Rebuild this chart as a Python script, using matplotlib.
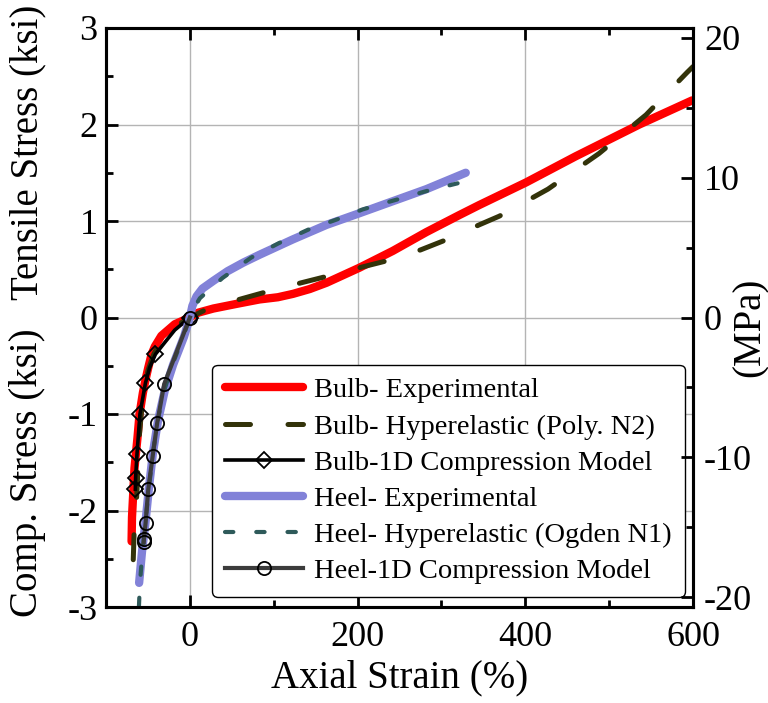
import matplotlib
matplotlib.use("Agg")
import matplotlib.pyplot as plt
from matplotlib.ticker import MultipleLocator, FixedLocator

plt.rcParams['font.family'] = ['Liberation Serif', 'DejaVu Serif']
plt.rcParams['axes.unicode_minus'] = False

# ---------------- data (strain %, stress ksi) ----------------
bulb_exp_x = [-69.5, -69, -66, -62.5, -60, -56, -52.5, -49.6, -45.6, -41.7, -34, -18, 0,
              10, 28, 55, 83, 105, 123, 143, 163, 202, 242, 282, 321, 345, 401, 460, 536, 599]
bulb_exp_y = [-2.32, -2.07, -1.56, -1.25, -1.0, -0.78, -0.63, -0.52, -0.38, -0.30, -0.19, -0.07, 0,
              0.05, 0.093, 0.14, 0.187, 0.21, 0.245, 0.295, 0.36, 0.515, 0.69, 0.885, 1.06, 1.165, 1.40, 1.67, 2.0, 2.25]

bulb_hyp_x = [-67.5, -66, -63.5, -62.5, -61, -58, -54.5, -50, -43, -33, -15, 0,
              20, 60, 93, 133, 165, 204, 236, 275, 307, 345, 369, 427, 488, 544, 593, 600]
bulb_hyp_y = [-2.51, -2.1, -1.87, -1.69, -1.3, -1.0, -0.76, -0.55, -0.38, -0.22, -0.08, 0,
              0.085, 0.19, 0.27, 0.36, 0.43, 0.52, 0.59, 0.70, 0.81, 0.96, 1.05, 1.33, 1.70, 2.10, 2.54, 2.60]

bulb_1d_x = [0, -18, -30, -41, -48, -53, -59.5, -63, -64.7, -65]
bulb_1d_y = [0, -0.13, -0.26, -0.38, -0.52, -0.68, -1.0, -1.41, -1.66, -1.78]
bulb_1d_marks = [0, 3, 5, 6, 7, 8, 9]

heel_exp_x = [-60.5, -57, -53, -49, -44, -38, -30, -20, -7, 0,
              3, 8, 15, 28, 45, 64, 83, 123, 163, 202, 242, 282, 329]
heel_exp_y = [-2.75, -2.42, -2.13, -1.78, -1.4, -1.07, -0.76, -0.49, -0.2, 0,
              0.12, 0.22, 0.30, 0.38, 0.48, 0.57, 0.65, 0.81, 0.96, 1.08, 1.205, 1.33, 1.50]

heel_hyp_x = [-60.7, -59.5, -56.5, -53, -49, -44, -38, -30, -20, -8, 0,
              5, 12, 39, 73, 106, 141, 175, 206, 246, 282, 319, 323]
heel_hyp_y = [-2.99, -2.75, -2.42, -2.13, -1.78, -1.4, -1.05, -0.74, -0.47, -0.2, 0,
              0.10, 0.20, 0.41, 0.62, 0.77, 0.91, 1.015, 1.12, 1.22, 1.31, 1.39, 1.40]

heel_1d_x = [0, -30.6, -38.9, -44.4, -49.6, -52.8, -54.8, -55]
heel_1d_y = [0, -0.69, -1.09, -1.44, -1.78, -2.13, -2.30, -2.33]

labels = ["Bulb- Experimental", "Bulb- Hyperelastic (Poly. N2)",
          "Bulb-1D Compression Model", "Heel- Experimental",
          "Heel- Hyperelastic (Ogden N1)", "Heel-1D Compression Model"]

x_ticks = [0, 200, 400, 600]
y_ticks = [-3, -2, -1, 0, 1, 2, 3]
mpa_ticks = [-20, -10, 0, 10, 20]
KSI_TO_MPA = 6.89476

# ---------------- figure ----------------
fig = plt.figure(figsize=(7.68, 7.03), dpi=100)
ax = fig.add_axes([106/768, 1-607/703, (693-106)/768, (607-28)/703])

ax.plot(bulb_exp_x, bulb_exp_y, color='#ff0000', lw=6, solid_capstyle='round',
        solid_joinstyle='round', label=labels[0], zorder=3)
ax.plot(bulb_hyp_x, bulb_hyp_y, color='#33330a', lw=3.6, dashes=(5, 7.5),
        dash_capstyle='round', label=labels[1], zorder=4)
ax.plot(bulb_1d_x, bulb_1d_y, color='black', lw=2.6, marker='D', markevery=bulb_1d_marks,
        markersize=8.5, markerfacecolor='none', markeredgecolor='black', markeredgewidth=1.3,
        label=labels[2], zorder=5)
ax.plot(heel_exp_x, heel_exp_y, color='#8282d8', lw=6, solid_capstyle='round',
        solid_joinstyle='round', label=labels[3], zorder=6)
ax.plot(heel_hyp_x, heel_hyp_y, color='#2e5a5a', lw=3.0, dashes=(2, 5.5),
        dash_capstyle='round', label=labels[4], zorder=7)
ax.plot(heel_1d_x, heel_1d_y, color='#3c3c3c', lw=3.0, marker='o',
        markersize=9.5, markerfacecolor='none', markeredgecolor='black', markeredgewidth=1.3,
        label=labels[5], zorder=8)

ax.set_xlim(-100, 600)
ax.set_ylim(-3, 3)
ax.xaxis.set_major_locator(FixedLocator(x_ticks))
ax.xaxis.set_minor_locator(MultipleLocator(100))
ax.yaxis.set_major_locator(FixedLocator(y_ticks))
ax.yaxis.set_minor_locator(MultipleLocator(0.5))
ax.grid(True, which='major', color='#b4b4b4', lw=1.0, zorder=0)
ax.set_axisbelow(True)

for s in ax.spines.values():
    s.set_linewidth(2.2)
ax.tick_params(axis='both', which='major', direction='in', length=8.5, width=2.0,
               labelsize=26, top=True, right=False)
ax.tick_params(axis='both', which='minor', direction='in', length=5, width=2.0,
               top=True, right=False)
ax.tick_params(axis='x', which='major', pad=10)
ax.tick_params(axis='y', which='major', pad=6)

ax2 = ax.twinx()
ax2.set_ylim(-3*KSI_TO_MPA, 3*KSI_TO_MPA)
ax2.yaxis.set_major_locator(FixedLocator(mpa_ticks))
ax2.yaxis.set_minor_locator(MultipleLocator(5))
ax2.tick_params(axis='y', which='major', direction='in', length=8.5, width=2.0,
                labelsize=26, pad=8)
ax2.tick_params(axis='y', which='minor', direction='in', length=5, width=2.0)
for s in ax2.spines.values():
    s.set_linewidth(2.2)

ax.set_xlabel("Axial Strain (%)", fontsize=28, labelpad=4)

fig.text(28/768, 1-152/703, "Tensile Stress (ksi)", rotation=90, ha='center', va='center', fontsize=28)
fig.text(28/768, 1-473/703, "Comp. Stress (ksi)", rotation=90, ha='center', va='center', fontsize=28)
fig.text(750/768, 1-327/703, "(MPa)", rotation=90, ha='center', va='center', fontsize=28)

leg = ax.legend(loc='lower right', bbox_to_anchor=(0.986, 0.017), borderaxespad=0,
                fontsize=20.5, frameon=True, fancybox=True, edgecolor='black',
                handlelength=2.75, handletextpad=0.4, borderpad=0.45, labelspacing=0.36,
                framealpha=1)
leg.get_frame().set_linewidth(1.0)
leg.set_zorder(20)

fig.savefig("out.png", dpi=100)
